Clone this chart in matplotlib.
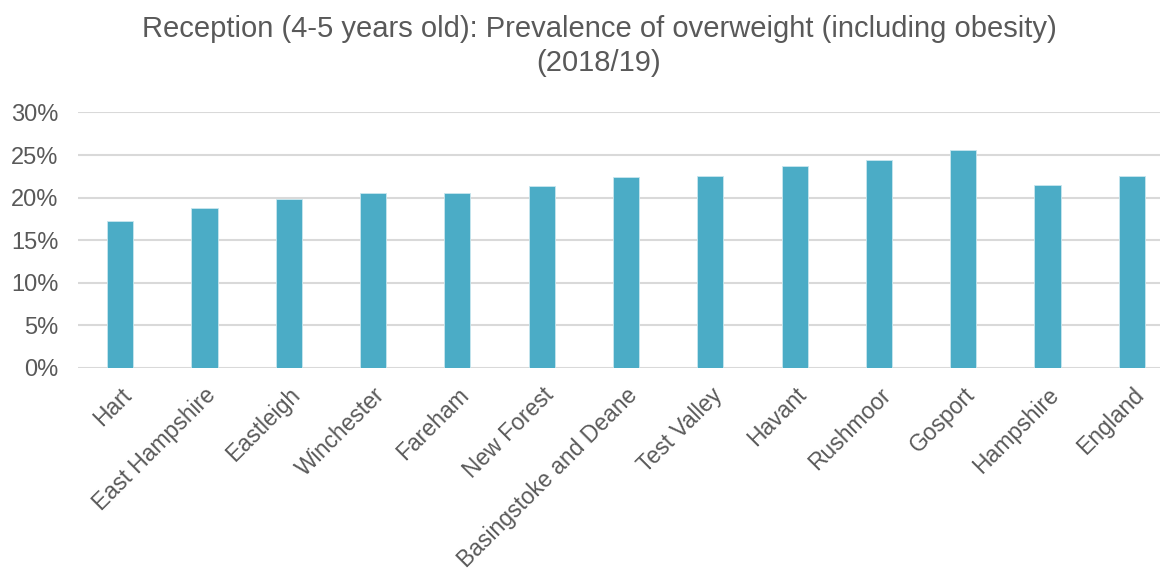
import matplotlib
matplotlib.use("Agg")
import matplotlib.pyplot as plt
from matplotlib.ticker import PercentFormatter, MultipleLocator

areas = ["Hart", "East Hampshire", "Eastleigh", "Winchester", "Fareham",
         "New Forest", "Basingstoke and Deane", "Test Valley", "Havant",
         "Rushmoor", "Gosport", "Hampshire", "England"]
prevalence = [17.3, 18.8, 19.8, 20.5, 20.6, 21.4, 22.4, 22.6, 23.7,
              24.4, 25.6, 21.5, 22.6]

plt.rcParams["font.family"] = ["Liberation Sans", "DejaVu Sans"]
text_grey = "#595959"

fig = plt.figure(figsize=(11.6, 5.71), dpi=100)
W, H = 1160, 571
left, right = 78, 1160
bottom, top = 368.0, 112.5
ax = fig.add_axes([left / W, 1 - bottom / H, (right - left) / W, (bottom - top) / H])

x = range(len(areas))
ax.bar(x, prevalence, width=0.31, color="#4BACC6", edgecolor="#c9e6ee",
       linewidth=0.6, zorder=3)

ax.set_ylim(0, 30)
ax.set_xlim(-0.5, 12.5 - 14 / 84.2)
ax.yaxis.set_major_locator(MultipleLocator(5))
ax.yaxis.set_major_formatter(PercentFormatter(decimals=0))
ax.grid(axis="y", color="#d9d9d9", linewidth=1.5, zorder=0)
ax.set_axisbelow(True)
for s in ax.spines.values():
    s.set_visible(False)

ax.set_xticks(list(x))
ax.set_xticklabels(areas, rotation=45, ha="right", rotation_mode="anchor",
                   fontsize=16.5, color=text_grey)
ax.tick_params(axis="x", length=0, pad=11)
ax.tick_params(axis="y", length=0, pad=14, labelsize=17, labelcolor=text_grey)

fig.text(599 / W, 1 - 46 / H,
         "Reception (4-5 years old): Prevalence of overweight (including obesity)\n(2018/19)",
         ha="center", va="center", fontsize=21, color=text_grey, linespacing=1.3)

fig.savefig("out.png", dpi=100)
